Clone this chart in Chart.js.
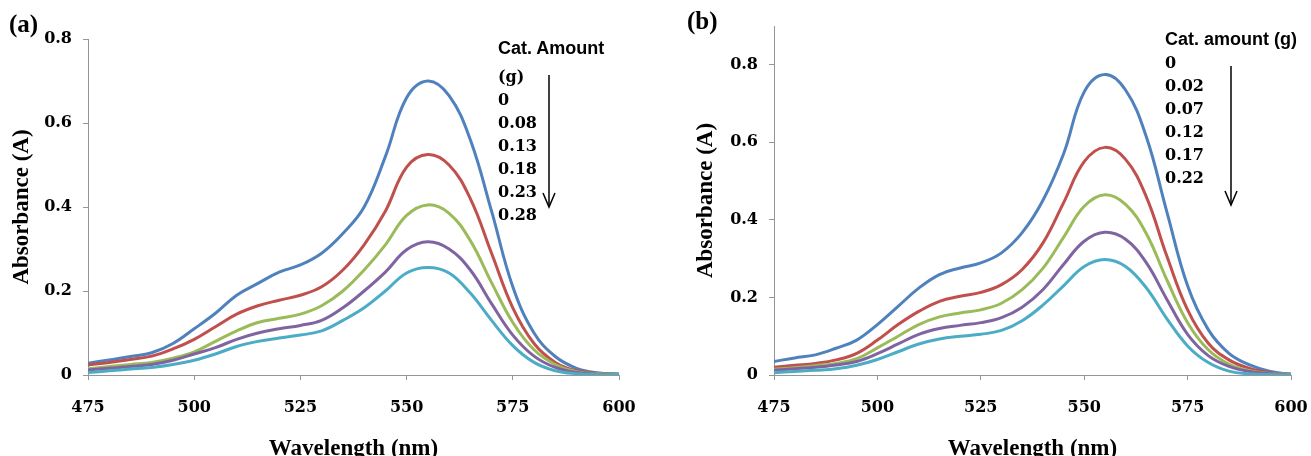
<!DOCTYPE html>
<html>
<head>
<meta charset="utf-8">
<script src="https://cdn.jsdelivr.net/npm/chart.js@4.4.1/dist/chart.umd.min.js"></script>
<style>
html, body { margin: 0; padding: 0; width: 1311px; height: 456px; overflow: hidden; background: #fff; }
canvas { position: absolute; top: 0; }
#chartA { left: 0; }
#chartB { left: 655px; }
.panel { position: absolute; font: bold 25px "Liberation Serif"; line-height: 28px; }
.leg { position: absolute; font: bold 16px "DejaVu Serif"; line-height: 20px; white-space: nowrap; }
.leg.head { font: bold 18px "Liberation Sans"; line-height: 20px; }
svg { position: absolute; left: 0; top: 0; }
</style>
</head>
<body>
<canvas id="chartA" width="655" height="470"></canvas>
<canvas id="chartB" width="656" height="470"></canvas>
<div class="panel" style="left:9px; top:10px;">(a)</div>
<div class="panel" style="left:687px; top:7px;">(b)</div>
<div id="legends"></div>
<svg width="1311" height="456">
  <g stroke="#000" stroke-width="1.5" fill="none">
    <line x1="549" y1="75" x2="549" y2="206"/>
    <polyline points="543,193 549,207 555,193"/>
    <line x1="1231" y1="66" x2="1231" y2="204"/>
    <polyline points="1225,191 1231,205 1237,191"/>
  </g>
</svg>
<script>
// wavelength grid (nm)
const wavelengths = [475, 480, 485, 490, 495, 500, 505, 510, 515, 520, 525, 530, 535,
                     540, 545, 550, 555, 560, 565, 570, 575, 580, 585, 590, 595, 600];

// panel (a) absorbance, cat. amount 0 .. 0.28 g
const a1 = [0.028, 0.036, 0.044, 0.053, 0.075, 0.11, 0.147, 0.19, 0.218, 0.245, 0.262, 0.29, 0.337,
            0.40, 0.52, 0.66, 0.70, 0.665, 0.56, 0.39, 0.21, 0.10, 0.044, 0.016, 0.005, 0.002];
const a2 = [0.024, 0.03, 0.037, 0.045, 0.062, 0.085, 0.115, 0.145, 0.165, 0.178, 0.19, 0.21, 0.25,
            0.31, 0.39, 0.495, 0.525, 0.50, 0.42, 0.29, 0.16, 0.075, 0.03, 0.01, 0.004, 0.002];
const a3 = [0.015, 0.02, 0.025, 0.03, 0.04, 0.055, 0.08, 0.105, 0.125, 0.135, 0.145, 0.165, 0.20,
            0.25, 0.31, 0.38, 0.405, 0.385, 0.32, 0.22, 0.125, 0.06, 0.025, 0.008, 0.003, 0.002];
const a4 = [0.012, 0.016, 0.02, 0.025, 0.035, 0.05, 0.065, 0.085, 0.10, 0.11, 0.118, 0.13, 0.16,
            0.20, 0.245, 0.298, 0.317, 0.30, 0.25, 0.17, 0.095, 0.045, 0.018, 0.006, 0.002, 0.002];
const a5 = [0.006, 0.01, 0.014, 0.018, 0.025, 0.035, 0.05, 0.068, 0.08, 0.088, 0.095, 0.105, 0.13,
            0.16, 0.20, 0.243, 0.256, 0.243, 0.195, 0.13, 0.07, 0.03, 0.01, 0.003, 0.001, 0.001];

// panel (b) absorbance, cat. amount 0 .. 0.22 g
const b1 = [0.035, 0.044, 0.052, 0.069, 0.09, 0.13, 0.177, 0.224, 0.259, 0.276, 0.289, 0.315, 0.367,
            0.45, 0.57, 0.73, 0.775, 0.735, 0.615, 0.42, 0.23, 0.117, 0.056, 0.026, 0.009, 0.002];
const b2 = [0.02, 0.025, 0.03, 0.039, 0.056, 0.09, 0.13, 0.164, 0.19, 0.203, 0.213, 0.233, 0.272,
            0.34, 0.444, 0.55, 0.587, 0.556, 0.46, 0.306, 0.168, 0.082, 0.039, 0.017, 0.006, 0.002];
const b3 = [0.015, 0.019, 0.024, 0.03, 0.042, 0.07, 0.10, 0.13, 0.15, 0.16, 0.168, 0.185, 0.22,
            0.275, 0.355, 0.435, 0.465, 0.44, 0.365, 0.245, 0.135, 0.065, 0.028, 0.011, 0.004, 0.002];
const b4 = [0.012, 0.016, 0.02, 0.026, 0.035, 0.055, 0.08, 0.105, 0.12, 0.128, 0.135, 0.148, 0.175,
            0.22, 0.285, 0.345, 0.368, 0.35, 0.29, 0.195, 0.105, 0.05, 0.022, 0.009, 0.003, 0.002];
const b5 = [0.006, 0.009, 0.012, 0.016, 0.025, 0.04, 0.06, 0.08, 0.093, 0.10, 0.105, 0.115, 0.14,
            0.18, 0.23, 0.28, 0.298, 0.28, 0.225, 0.145, 0.075, 0.032, 0.01, 0.003, 0.001, 0.001];

const amountsA = ['0', '0.08', '0.13', '0.18', '0.23', '0.28'];
const amountsB = ['0', '0.02', '0.07', '0.12', '0.17', '0.22'];

const colors = ['#4F81BD', '#C0504D', '#9BBB59', '#8064A2', '#4BACC6'];
const axisColor = '#959595';
const tickFont = { family: 'DejaVu Serif', size: 16, weight: 'bold' };
const titleFont = { family: 'Liberation Serif', size: 23, weight: 'bold' };

function makeChart(id, series, yMax, yAxisWidth, titlePadLeft, pad) {
  const datasets = series.map((vals, i) => ({
    data: wavelengths.map((w, k) => ({ x: w, y: vals[k] })),
    borderColor: colors[i],
    borderWidth: 3,
    pointRadius: 0,
    tension: 0.4,
    order: series.length - 1 - i
  }));
  return new Chart(document.getElementById(id), {
    type: 'line',
    data: { datasets: datasets },
    options: {
      responsive: false,
      animation: false,
      layout: { padding: pad },
      plugins: { legend: { display: false }, tooltip: { enabled: false } },
      scales: {
        x: {
          type: 'linear', min: 475, max: 600,
          ticks: { stepSize: 25, color: '#000', font: tickFont, padding: 18, maxRotation: 0, autoSkip: false },
          grid: { drawOnChartArea: false, tickLength: 5, color: axisColor },
          border: { color: axisColor, width: 1 },
          title: { display: true, text: 'Wavelength (nm)', color: '#000', font: titleFont, padding: { top: 0, bottom: 7 } },
          afterFit: s => { s.height = 95; s.paddingRight = 0; s.paddingLeft = 0; }
        },
        y: {
          min: 0, max: yMax,
          ticks: { stepSize: 0.2, color: '#000', font: tickFont, padding: 11,
                   callback: v => String(+v.toFixed(1)) },
          afterBuildTicks: s => { s.ticks = s.ticks.filter(t => t.value <= 0.8001); },
          grid: { drawOnChartArea: false, tickLength: 5, color: axisColor },
          border: { color: axisColor, width: 1 },
          title: { display: true, text: 'Absorbance (A)', color: '#000', font: titleFont, padding: { top: titlePadLeft, bottom: 0 } },
          afterFit: s => { s.width = yAxisWidth; }
        }
      }
    }
  });
}

makeChart('chartA', [a1, a2, a3, a4, a5], 0.8, 88, 8, { top: 39, right: 36, left: 0, bottom: 0 });
makeChart('chartB', [b1, b2, b3, b4, b5], 0.9, 119, 37, { top: 26, right: 20, left: 0, bottom: 0 });

// text legends with the amounts
function addLegend(left, headTop, headText, extraText, firstTop, amounts) {
  const box = document.getElementById('legends');
  const head = document.createElement('div');
  head.className = 'leg head';
  head.style.left = left + 'px';
  head.style.top = headTop + 'px';
  head.textContent = headText;
  box.appendChild(head);
  const rows = extraText ? [extraText].concat(amounts) : amounts;
  rows.forEach((t, i) => {
    const d = document.createElement('div');
    d.className = 'leg';
    d.style.left = left + 'px';
    d.style.top = (firstTop + i * 23) + 'px';
    d.textContent = t;
    box.appendChild(d);
  });
}
addLegend(498, 38, 'Cat. Amount', '(g)', 67, amountsA);
addLegend(1165, 29, 'Cat. amount (g)', null, 53, amountsB);
</script>
</body>
</html>
